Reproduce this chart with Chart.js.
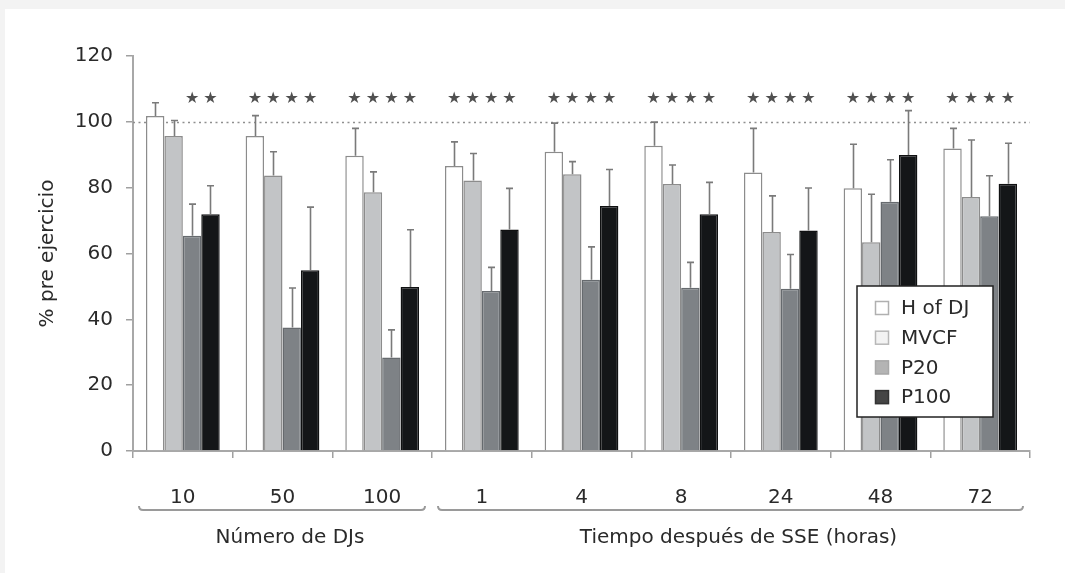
<!DOCTYPE html>
<html>
<head>
<meta charset="utf-8">
<script src="https://cdn.jsdelivr.net/npm/chart.js@4"></script>
<style>
html,body{margin:0;padding:0;background:#fff;}
#wrap{width:1065px;height:573px;position:relative;}
</style>
</head>
<body>
<div id="wrap"><canvas id="c" width="1065" height="573"></canvas></div>
<script>
const categories = ["10", "50", "100", "1", "4", "8", "24", "48", "72"];
const seriesNames = ["H of DJ", "MVCF", "P20", "P100"];
const hOfDJ = [101.8, 95.7, 89.7, 86.6, 90.9, 92.7, 84.6, 79.8, 91.9];
const mvcf  = [95.7, 83.7, 78.6, 82.2, 84.1, 81.1, 66.5, 63.4, 77.2];
const p20   = [65.4, 37.5, 28.4, 48.6, 52.0, 49.6, 49.3, 75.7, 71.3];
const p100  = [71.9, 54.9, 49.8, 67.3, 74.4, 71.9, 67.0, 89.9, 81.2];
const errHofDJ = [4.0, 6.2, 8.3, 7.3, 8.7, 7.2, 13.4, 13.4, 6.1];
const errMvcf  = [4.7, 7.2, 6.2, 8.2, 3.8, 5.8, 11.0, 14.6, 17.3];
const errP20   = [9.6, 12.0, 8.4, 7.2, 10.0, 7.7, 10.4, 12.8, 12.3];
const errP100  = [8.7, 19.2, 17.4, 12.5, 11.1, 9.7, 12.9, 13.5, 12.3];
const sigHofDJ = [0, 1, 1, 1, 1, 1, 1, 1, 1];
const sigMvcf  = [0, 1, 1, 1, 1, 1, 1, 1, 1];
const sigP20   = [1, 1, 1, 1, 1, 1, 1, 1, 1];
const sigP100  = [1, 1, 1, 1, 1, 1, 1, 1, 1];
const yTicks = [0, 20, 40, 60, 80, 100, 120];
const refLine = 100;
const starLevel = 107;
const groupLabels = ["Número de DJs", "Tiempo después de SSE (horas)"];
const groupStart = [0, 3];
const groupEnd = [2, 8];

const FONT = "'DejaVu Sans', Verdana, sans-serif";
const TEXT = '#2a2a2a';
const fills = ["#ffffff", "#c2c4c6", "#7e8286", "#141618"];
const borders = ["#8c8c8c", "#8c8c8c", "#666a6e", "#101112"];
const legendFills = ["#ffffff", "#f3f3f3", "#b4b4b4", "#454545"];
const legendBorders = ["#b0b0b0", "#b8b8b8", "#a8a8a8", "#333333"];
const errs = [errHofDJ, errMvcf, errP20, errP100];
const sigs = [sigHofDJ, sigMvcf, sigP20, sigP100];
const values = [hOfDJ, mvcf, p20, p100];

const datasets = seriesNames.map((n, i) => ({
  label: n,
  data: values[i],
  backgroundColor: fills[i],
  borderColor: borders[i],
  borderWidth: 1.5,
  borderSkipped: 'bottom',
  categoryPercentage: 0.74,
  barPercentage: 1.0
}));

const decor = {
  id: 'decor',
  beforeDraw(chart) {
    const ctx = chart.ctx;
    ctx.save();
    ctx.fillStyle = '#f3f3f3';
    ctx.fillRect(0, 0, chart.width, chart.height);
    ctx.fillStyle = '#ffffff';
    ctx.fillRect(5, 9, chart.width - 5, chart.height - 9);
    ctx.restore();
  },
  beforeDatasetsDraw(chart) {
    const ctx = chart.ctx, y = chart.scales.y, a = chart.chartArea;
    const py = Math.round(y.getPixelForValue(refLine)) + 0.5;
    ctx.save();
    ctx.strokeStyle = '#8f8f8f';
    ctx.lineWidth = 1.5;
    ctx.setLineDash([2, 3.5]);
    ctx.beginPath();
    ctx.moveTo(a.left, py);
    ctx.lineTo(a.right, py);
    ctx.stroke();
    ctx.restore();
  },
  afterDatasetsDraw(chart) {
    const ctx = chart.ctx, y = chart.scales.y, a = chart.chartArea;
    ctx.save();
    chart.data.datasets.forEach((ds, di) => {
      const meta = chart.getDatasetMeta(di);
      meta.data.forEach((bar, i) => {
        const top = y.getPixelForValue(ds.data[i] + errs[di][i]);
        const bx = Math.round(bar.x) + 0.5;
        ctx.strokeStyle = '#7a7a7a';
        ctx.lineWidth = 1.6;
        ctx.beginPath();
        ctx.moveTo(bx, bar.y);
        ctx.lineTo(bx, top);
        ctx.moveTo(bx - 3.5, top);
        ctx.lineTo(bx + 3.5, top);
        ctx.stroke();
        if (sigs[di][i]) {
          ctx.fillStyle = '#505050';
          ctx.font = '16px ' + FONT;
          ctx.textAlign = 'center';
          ctx.textBaseline = 'middle';
          ctx.fillText('\u2605', bar.x, y.getPixelForValue(starLevel));
        }
      });
    });
    const lx = a.right - 173, ly = a.top + 230, lw = 136, lh = 131;
    ctx.fillStyle = '#ffffff';
    ctx.fillRect(lx, ly, lw, lh);
    ctx.strokeStyle = '#222';
    ctx.lineWidth = 1.5;
    ctx.strokeRect(lx, ly, lw, lh);
    chart.data.datasets.forEach((ds, di) => {
      const ry = ly + 22 + di * 29.7;
      ctx.fillStyle = legendFills[di];
      ctx.fillRect(lx + 18, ry - 7, 14, 14);
      ctx.strokeStyle = legendBorders[di];
      ctx.lineWidth = 1.5;
      ctx.strokeRect(lx + 18.5, ry - 6.5, 13, 13);
      ctx.fillStyle = TEXT;
      ctx.font = '20px ' + FONT;
      ctx.textAlign = 'left';
      ctx.textBaseline = 'middle';
      ctx.fillText(ds.label, lx + 44, ry + 1);
    });
    ctx.restore();
  },
  afterDraw(chart) {
    const ctx = chart.ctx, x = chart.scales.x;
    const half = (x.getPixelForValue(1) - x.getPixelForValue(0)) / 2;
    const by = 510;
    ctx.save();
    groupLabels.forEach((g, gi) => {
      const l = x.getPixelForValue(groupStart[gi]) - half + 6;
      const r = x.getPixelForValue(groupEnd[gi]) + half - 7;
      ctx.strokeStyle = '#9a9a9a';
      ctx.lineWidth = 2;
      ctx.beginPath();
      ctx.moveTo(l, by - 4);
      ctx.quadraticCurveTo(l, by, l + 4, by);
      ctx.lineTo(r - 4, by);
      ctx.quadraticCurveTo(r, by, r, by - 4);
      ctx.stroke();
      ctx.fillStyle = TEXT;
      ctx.font = '20px ' + FONT;
      ctx.textAlign = 'center';
      ctx.textBaseline = 'middle';
      ctx.fillText(g, (l + r) / 2 + 8, 538);
    });
    ctx.restore();
  }
};

new Chart(document.getElementById('c'), {
  type: 'bar',
  data: { labels: categories, datasets },
  options: {
    responsive: false,
    animation: false,
    events: [],
    layout: { padding: { top: 56, right: 35, left: 0, bottom: 0 } },
    plugins: { legend: { display: false }, tooltip: { enabled: false } },
    scales: {
      x: {
        offset: true,
        grid: { offset: true, drawOnChartArea: false, drawTicks: true, tickLength: 7, color: '#a0a0a0', lineWidth: 1.5 },
        border: { color: '#a8a8a8', width: 2 },
        ticks: { color: TEXT, font: { family: FONT, size: 20 }, padding: 28, maxRotation: 0 },
        afterFit(s) { s.height = 122; }
      },
      y: {
        min: 0, max: 120,
        afterBuildTicks(s) { s.ticks = yTicks.map(v => ({ value: v })); },
        grid: { drawOnChartArea: false, drawTicks: true, tickLength: 7, color: '#a0a0a0', lineWidth: 1.5 },
        border: { color: '#a8a8a8', width: 2 },
        ticks: { color: TEXT, font: { family: FONT, size: 20 }, padding: 13 },
        title: { display: true, text: '% pre ejercicio', color: TEXT, font: { family: FONT, size: 20 }, padding: { top: 36, bottom: 0 } },
        afterFit(s) { s.width = 133; }
      }
    }
  },
  plugins: [decor]
});
</script>
</body>
</html>
